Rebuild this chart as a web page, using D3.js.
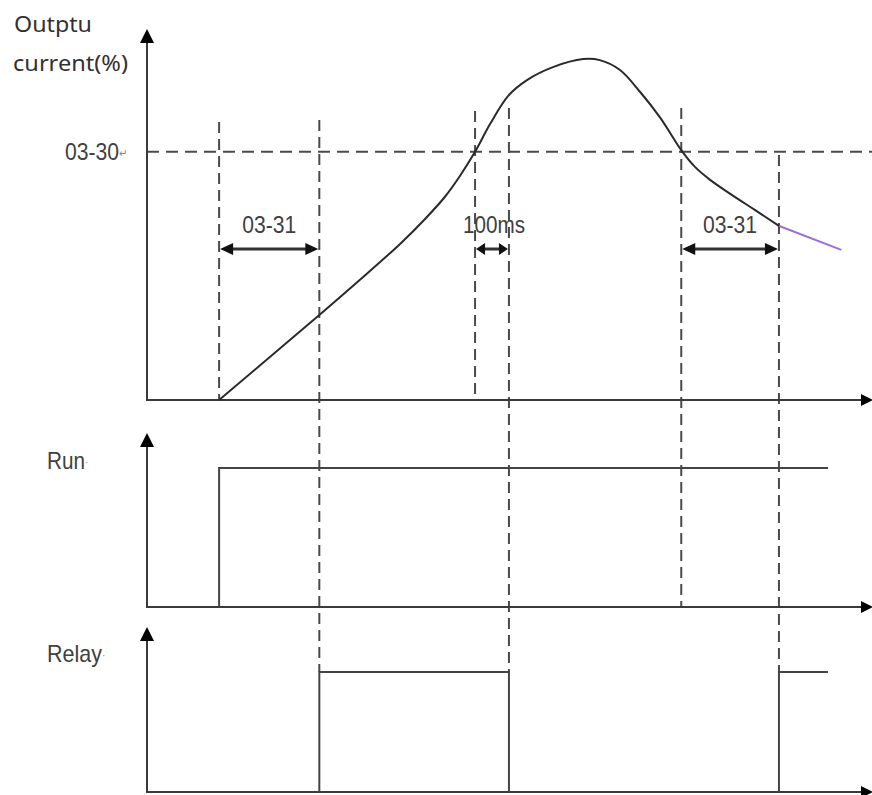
<!DOCTYPE html>
<html>
<head>
<meta charset="utf-8">
<script src="https://cdn.jsdelivr.net/npm/d3@7"></script>
<style>
  body { margin: 0; background: #fff; }
  svg { display: block; }
  .lbl { font-family: "Liberation Sans", Arial, sans-serif; fill: #404040; }
</style>
</head>
<body>
<svg width="872" height="795"></svg>
<script>
// output current curve, t = time units, c = current %
const curveT = [10, 23.9, 29.5, 35.1, 38.6, 41.3, 43.4, 45.5, 47.6, 50.1, 52.7, 56.3, 60.5, 62.8, 65.6, 68.4, 71.2, 74.1, 76.0, 78.1, 80.9, 84.3, 87.7];
const curveC = [0, 24.3, 34.3, 44.6, 51.8, 58.0, 64.0, 70.9, 78.9, 86.9, 91.4, 95.1, 97.4, 97.1, 94.3, 88, 80.6, 71.4, 66.6, 62.9, 58.9, 54.3, 49.7];
const tailT = [87.7, 96.3];
const tailC = [49.7, 42.9];

const level0330 = 70.9;

// event times
const runOn = 10, runEnd = 94.45;
const relayT = [23.9, 50.2, 87.65, 94.45];

// dashed markers: time, top (current %), bottom panel
const markT = [10, 23.9, 45.5, 50.2, 74.1, 87.65];
const markTop = [79.4, 80, 82.6, 83.4, 83.4, 70];
const markEnd = ["cur", "relay", "cur", "relay", "run", "relay"];

// span arrows
const spanFrom = [10, 45.5, 74.1];
const spanTo = [23.9, 50.2, 87.65];
const spanText = ["03-31", "100ms", "03-31"];
const spanTextW = [54, 62, 54];

const svg = d3.select("svg");

const x = d3.scaleLinear().domain([0, 100]).range([147, 868]);
const yCur = d3.scaleLinear().domain([0, 100]).range([400, 50]);
const yRun = d3.scaleLinear().domain([0, 1]).range([607, 468]);
const yRelay = d3.scaleLinear().domain([0, 1]).range([792, 672]);

const INK = "#3a3a3a";

// dashed verticals
const bottomOf = k => k === "cur" ? yCur(0) : k === "run" ? yRun(0) : yRelay(1);
svg.selectAll(".mark")
  .data(markT)
  .enter().append("line")
  .attr("x1", d => x(d)).attr("x2", d => x(d))
  .attr("y1", (d, i) => yCur(markTop[i]))
  .attr("y2", (d, i) => bottomOf(markEnd[i]))
  .attr("stroke", "#4a4a4a").attr("stroke-width", 2)
  .attr("stroke-dasharray", "11,6");

// 03-30 level
svg.append("line")
  .attr("x1", x(0)).attr("x2", 872)
  .attr("y1", yCur(level0330)).attr("y2", yCur(level0330))
  .attr("stroke", "#4a4a4a").attr("stroke-width", 2)
  .attr("stroke-dasharray", "12,7");

// axes with arrowheads
function axis(y0, yTop) {
  svg.append("line").attr("x1", x(0)).attr("x2", x(0)).attr("y1", y0).attr("y2", yTop + 12)
    .attr("stroke", INK).attr("stroke-width", 2);
  svg.append("path").attr("d", `M${x(0)},${yTop} L${x(0) - 7},${yTop + 14} L${x(0) + 7},${yTop + 14} Z`).attr("fill", "#000");
  svg.append("line").attr("x1", x(0) - 1).attr("x2", 862).attr("y1", y0).attr("y2", y0)
    .attr("stroke", INK).attr("stroke-width", 2);
  svg.append("path").attr("d", `M873,${y0} L861,${y0 - 6} L861,${y0 + 6} Z`).attr("fill", "#000");
}
axis(yCur(0), 29);
axis(yRun(0), 433);
axis(yRelay(0), 627);

// current curve
const line = d3.line().x(d => x(d[0])).y(d => yCur(d[1])).curve(d3.curveCatmullRom.alpha(0.5));
svg.append("path")
  .attr("d", line(d3.zip(curveT, curveC)))
  .attr("fill", "none").attr("stroke", "#2a2a2a").attr("stroke-width", 2);
svg.append("path")
  .attr("d", line(d3.zip(tailT, tailC)))
  .attr("fill", "none").attr("stroke", "#9b6fd6").attr("stroke-width", 2);

// run signal
const runLine = d3.line().x(d => x(d[0])).y(d => yRun(d[1]));
svg.append("path")
  .attr("d", runLine([[runOn, 0], [runOn, 1], [runEnd, 1]]))
  .attr("fill", "none").attr("stroke", "#444").attr("stroke-width", 2);

// relay signal
const relayLine = d3.line().x(d => x(d[0])).y(d => yRelay(d[1]));
[
  [[relayT[0], 0], [relayT[0], 1], [relayT[1], 1], [relayT[1], 0]],
  [[relayT[2], 0], [relayT[2], 1], [relayT[3], 1]]
].forEach(seg => {
  svg.append("path").attr("d", relayLine(seg))
    .attr("fill", "none").attr("stroke", "#444").attr("stroke-width", 2);
});

// span arrows
const yArr = 249;
spanFrom.forEach((f, i) => {
  const a = x(f) + 1, b = x(spanTo[i]) - 1;
  const hl = i === 1 ? 9 : 13;
  svg.append("line").attr("x1", a + hl - 2).attr("x2", b - hl + 2).attr("y1", yArr).attr("y2", yArr)
    .attr("stroke", "#333").attr("stroke-width", 3);
  svg.append("path").attr("d", `M${a},${yArr} L${a + hl},${yArr - 6} L${a + hl},${yArr + 6} Z`).attr("fill", "#111");
  svg.append("path").attr("d", `M${b},${yArr} L${b - hl},${yArr - 6} L${b - hl},${yArr + 6} Z`).attr("fill", "#111");
  svg.append("text").attr("class", "lbl")
    .attr("x", (a + b) / 2 + (i === 1 ? 2 : 0)).attr("y", 233)
    .attr("text-anchor", "middle")
    .attr("font-size", 23)
    .attr("textLength", spanTextW[i]).attr("lengthAdjust", "spacingAndGlyphs")
    .text(spanText[i]);
});

// labels
const title = svg.append("g").attr("font-family", "'Noto Sans', 'Open Sans', sans-serif").attr("fill", "#353030");
title.append("text").attr("x", 14).attr("y", 32).attr("font-size", 22)
  .attr("textLength", 78).attr("lengthAdjust", "spacingAndGlyphs").text("Outptu");
title.append("text").attr("x", 13).attr("y", 71).attr("font-size", 22)
  .attr("textLength", 115).attr("lengthAdjust", "spacingAndGlyphs").text("current(%)");

function label(txt, tail, tx, ty, sx) {
  const t = svg.append("text").attr("class", "lbl")
    .attr("transform", `translate(${tx},${ty}) scale(${sx},1)`)
    .attr("font-size", 23);
  t.append("tspan").text(txt);
  t.append("tspan").attr("font-size", 11).attr("fill", "#888").attr("dy", -3).text(tail);
}
label("03-30", "↵", 65, 160, 0.92);
label("Run", "·", 47, 469, 0.9);
label("Relay", "·", 47, 662, 0.935);
</script>
</body>
</html>
